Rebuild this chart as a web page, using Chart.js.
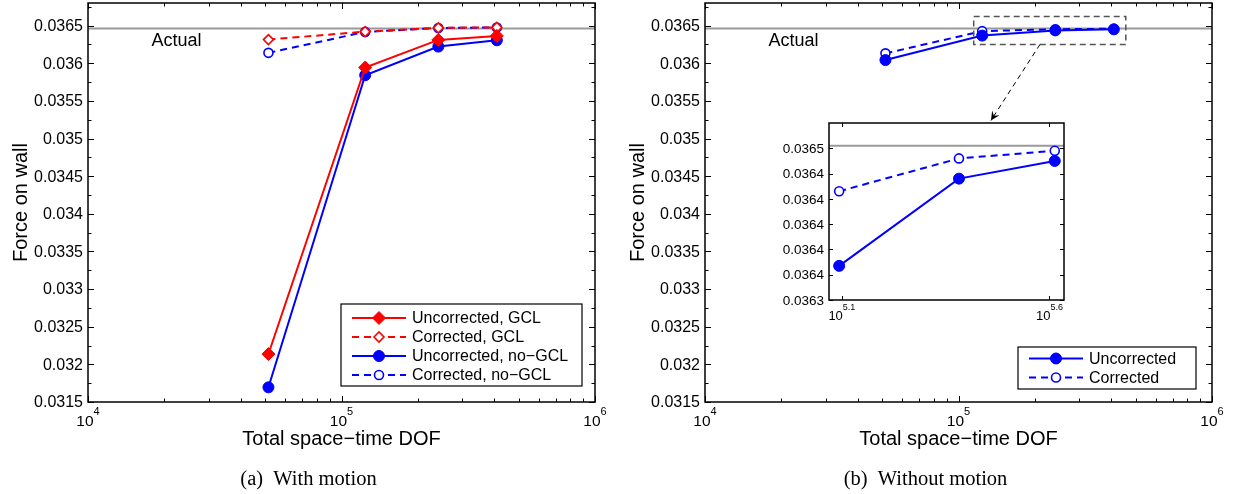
<!DOCTYPE html>
<html>
<head>
<meta charset="utf-8">
<script src="https://cdn.jsdelivr.net/npm/chart.js@4.4.1/dist/chart.umd.min.js"></script>
<style>
  html, body { margin: 0; padding: 0; background: #fff; }
  #wrap { position: relative; width: 1234px; height: 494px; }
  .pane { position: absolute; }
</style>
</head>
<body>
<div id="wrap">
  <div class="pane" style="left:0;top:0;width:617px;height:494px"><canvas id="left"></canvas></div>
  <div class="pane" style="left:617px;top:0;width:617px;height:494px"><canvas id="right"></canvas></div>
  <div class="pane" style="left:760px;top:110px;width:320px;height:215px"><canvas id="inset"></canvas></div>
</div>
<script>
// values
const dof = [51500, 124000, 241000, 410000];
const actualForce = 0.036462;

// (a) with motion
const uncorrGCL   = [0.032137, 0.035943, 0.036310, 0.036363];
const corrGCL     = [0.036314, 0.036420, 0.036470, 0.036476];
const uncorrNoGCL = [0.031695, 0.035841, 0.036221, 0.036305];
const corrNoGCL   = [0.036138, 0.036416, 0.036468, 0.036475];

// (b) without motion
const uncorrStatic = [0.036042, 0.036367, 0.036436, 0.036450];
const corrStatic   = [0.036131, 0.036426, 0.036452, 0.036458];

// ticks
const yTicks = [0.0315, 0.032, 0.0325, 0.033, 0.0335, 0.034, 0.0345, 0.035, 0.0355, 0.036, 0.0365];
const yMinorTicks = [0.03175, 0.03225, 0.03275, 0.03325, 0.03375, 0.03425, 0.03475, 0.03525, 0.03575, 0.03625, 0.03675];
const xMajorTicks = [1e4, 1e5, 1e6];
const xMinorTicks = [2e4, 3e4, 4e4, 5e4, 6e4, 7e4, 8e4, 9e4, 2e5, 3e5, 4e5, 5e5, 6e5, 7e5, 8e5, 9e5];
const xTickLabels = [
  { v: 1e4, base: '10', exp: '4' },
  { v: 1e5, base: '10', exp: '5' },
  { v: 1e6, base: '10', exp: '6' }
];
const insetYTicks = [0.03634, 0.03636, 0.03638, 0.03640, 0.03642, 0.03644, 0.03646];
const insetXTickLabels = [
  { v: Math.pow(10, 5.1), base: '10', exp: '5.1' },
  { v: Math.pow(10, 5.6), base: '10', exp: '5.6' }
];

const FONT = '"Liberation Sans", Arial, Helvetica, sans-serif';
const SERIF = '"Liberation Serif", "Times New Roman", serif';
Chart.defaults.font.family = FONT;
Chart.defaults.color = '#000';

const RED = '#ff0000', BLUE = '#0000ff', GREY = '#9a9a9a';
const DASH = [7, 5];

function series(label, ys, color, dash, style, radius, filled, xs) {
  xs = xs || dof;
  return {
    label: label,
    inLegend: true,
    data: ys.map((v, i) => ({ x: xs[i], y: v })),
    borderColor: color,
    borderWidth: 2,
    borderDash: dash,
    pointStyle: style,
    pointRadius: radius,
    pointBorderWidth: filled ? 1 : 1.6,
    pointBorderColor: color,
    pointBackgroundColor: filled ? color : '#fff',
    backgroundColor: filled ? color : '#fff',
    tension: 0,
    fill: false
  };
}

function actualLine(x0, x1) {
  return {
    label: 'Actual',
    inLegend: false,
    data: [{ x: x0, y: actualForce }, { x: x1, y: actualForce }],
    borderColor: GREY,
    borderWidth: 2,
    pointRadius: 0,
    fill: false
  };
}

// extra drawing per panel
const decor = {
  left: {
    xMajor: xMajorTicks, xMinor: xMinorTicks, yMajor: yTicks, yMinor: yMinorTicks,
    major: 6, minor: 3.5, yFont: 16,
    xLabels: xTickLabels, labelFont: { base: 15.5, exp: 11, baseY: 24, expY: 13 },
    xTitle: 'Total space\u2212time DOF', yTitle: 'Force on wall',
    caption: '(a)  With motion',
    actualLabel: true,
    legend: { w: 241, h: 82, right: 13, bottom: 16, first: 14, gap: 19 }
  },
  right: {
    xMajor: xMajorTicks, xMinor: xMinorTicks, yMajor: yTicks, yMinor: yMinorTicks,
    major: 6, minor: 3.5, yFont: 16,
    xLabels: xTickLabels, labelFont: { base: 15.5, exp: 11, baseY: 24, expY: 13 },
    xTitle: 'Total space\u2212time DOF', yTitle: 'Force on wall',
    caption: '(b)  Without motion',
    actualLabel: true,
    legend: { w: 178, h: 42, right: 16, bottom: 13, first: 11.5, gap: 19 },
    zoomBox: { x0: Math.pow(10, 5.06), x1: Math.pow(10, 5.66), y0: 0.03625, y1: 0.03662 },
    arrow: { x0: Math.pow(10, 5.3215), y0: 0.03625, x1: Math.pow(10, 5.128), y1: 0.03524 }
  },
  inset: {
    xMajor: insetXTickLabels.map(t => t.v), xMinor: [], yMajor: insetYTicks, yMinor: [],
    major: 4, minor: 0, yFont: 13.5,
    xLabels: insetXTickLabels, labelFont: { base: 13, exp: 9, baseY: 20, expY: 10 }
  }
};

function yTickLabel(v) { return String(+Number(v).toFixed(4)); }

function drawFrame(chart, d) {
  const { ctx, chartArea: a, scales: { x, y } } = chart;
  ctx.save();
  ctx.strokeStyle = '#000';
  ctx.lineWidth = 1;
  ctx.setLineDash([]);
  ctx.beginPath();
  const vt = (v, len) => {
    const px = Math.round(x.getPixelForValue(v)) + 0.5;
    ctx.moveTo(px, a.bottom); ctx.lineTo(px, a.bottom - len);
    ctx.moveTo(px, a.top); ctx.lineTo(px, a.top + len);
  };
  const ht = (v, len) => {
    const py = Math.round(y.getPixelForValue(v)) + 0.5;
    ctx.moveTo(a.left, py); ctx.lineTo(a.left + len, py);
    ctx.moveTo(a.right, py); ctx.lineTo(a.right - len, py);
  };
  d.xMajor.forEach(v => vt(v, d.major));
  d.xMinor.forEach(v => vt(v, d.minor));
  d.yMajor.forEach(v => ht(v, d.major));
  d.yMinor.forEach(v => ht(v, d.minor));
  ctx.stroke();
  ctx.lineWidth = 1.5;
  ctx.strokeRect(a.left, a.top, a.width, a.height);

  // y tick labels
  ctx.fillStyle = '#000';
  ctx.font = d.yFont + 'px ' + FONT;
  ctx.textAlign = 'right';
  ctx.textBaseline = 'middle';
  d.yMajor.forEach(v => ctx.fillText(yTickLabel(v), a.left - 5, y.getPixelForValue(v) + 1));
  ctx.restore();
}

function drawPowerLabels(chart, d) {
  const { ctx, chartArea: a, scales: { x } } = chart;
  const f = d.labelFont;
  ctx.save();
  ctx.fillStyle = '#000';
  ctx.textAlign = 'left';
  ctx.textBaseline = 'alphabetic';
  d.xLabels.forEach(t => {
    const px = x.getPixelForValue(t.v);
    ctx.font = f.base + 'px ' + FONT;
    const wb = ctx.measureText(t.base).width;
    ctx.font = f.exp + 'px ' + FONT;
    const we = ctx.measureText(t.exp).width;
    const x0 = px - (wb + we) / 2;
    ctx.font = f.base + 'px ' + FONT;
    ctx.fillText(t.base, x0, a.bottom + f.baseY);
    ctx.font = f.exp + 'px ' + FONT;
    ctx.fillText(t.exp, x0 + wb, a.bottom + f.expY);
  });
  ctx.restore();
}

function drawTexts(chart, d) {
  const { ctx, chartArea: a, scales: { x, y } } = chart;
  ctx.save();
  ctx.fillStyle = '#000';
  ctx.textBaseline = 'alphabetic';
  ctx.textAlign = 'center';
  ctx.font = '20px ' + FONT;
  ctx.fillText(d.xTitle, (a.left + a.right) / 2, a.bottom + 43);
  ctx.font = '20.5px ' + SERIF;
  ctx.fillText(d.caption, chart.width / 2, 485);
  ctx.save();
  ctx.translate(27, (a.top + a.bottom) / 2);
  ctx.rotate(-Math.PI / 2);
  ctx.font = '20px ' + FONT;
  ctx.fillText(d.yTitle, 0, 0);
  ctx.restore();
  if (d.actualLabel) {
    ctx.textAlign = 'left';
    ctx.font = '18px ' + FONT;
    ctx.fillText('Actual', x.getPixelForValue(Math.pow(10, 4.25)), y.getPixelForValue(actualForce) + 18);
  }
  ctx.restore();
}

function drawLegend(chart, lg) {
  const { ctx, chartArea: a } = chart;
  const bx = a.right - lg.right - lg.w;
  const by = a.bottom - lg.bottom - lg.h;
  ctx.save();
  ctx.fillStyle = '#fff';
  ctx.fillRect(bx, by, lg.w, lg.h);
  ctx.strokeStyle = '#000';
  ctx.lineWidth = 1.2;
  ctx.setLineDash([]);
  ctx.strokeRect(bx, by, lg.w, lg.h);
  const items = chart.data.datasets.filter(ds => ds.inLegend);
  items.forEach((ds, i) => {
    const ry = by + lg.first + i * lg.gap;
    ctx.strokeStyle = ds.borderColor;
    ctx.lineWidth = ds.borderWidth;
    ctx.setLineDash(ds.borderDash || []);
    ctx.beginPath();
    ctx.moveTo(bx + 11, ry);
    ctx.lineTo(bx + 65, ry);
    ctx.stroke();
    ctx.setLineDash([]);
    ctx.fillStyle = ds.pointBackgroundColor;
    ctx.strokeStyle = ds.pointBorderColor;
    ctx.lineWidth = ds.pointBorderWidth;
    Chart.helpers.drawPoint(ctx, { pointStyle: ds.pointStyle, radius: ds.pointRadius, borderWidth: ds.pointBorderWidth, rotation: 0 }, bx + 38, ry);
    ctx.fillStyle = '#000';
    ctx.font = '16px ' + FONT;
    ctx.textAlign = 'left';
    ctx.textBaseline = 'middle';
    ctx.fillText(ds.label, bx + 71, ry + 1);
  });
  ctx.restore();
}

function drawZoomMarks(chart, d) {
  const { ctx, scales: { x, y } } = chart;
  ctx.save();
  const zb = d.zoomBox;
  const l = x.getPixelForValue(zb.x0), r = x.getPixelForValue(zb.x1);
  const t = y.getPixelForValue(zb.y1), b = y.getPixelForValue(zb.y0);
  ctx.strokeStyle = '#555';
  ctx.lineWidth = 1.5;
  ctx.setLineDash([6, 4]);
  ctx.strokeRect(l, t, r - l, b - t);
  const ar = d.arrow;
  const sx = x.getPixelForValue(ar.x0), sy = y.getPixelForValue(ar.y0);
  const ex = x.getPixelForValue(ar.x1), ey = y.getPixelForValue(ar.y1);
  ctx.strokeStyle = '#000';
  ctx.lineWidth = 1;
  ctx.setLineDash([5, 4]);
  ctx.beginPath();
  ctx.moveTo(sx, sy);
  ctx.lineTo(ex, ey);
  ctx.stroke();
  ctx.setLineDash([]);
  const ang = Math.atan2(ey - sy, ex - sx);
  const hl = 10, hw = 0.45;
  ctx.fillStyle = '#000';
  ctx.beginPath();
  ctx.moveTo(ex, ey);
  ctx.lineTo(ex - hl * Math.cos(ang - hw), ey - hl * Math.sin(ang - hw));
  ctx.lineTo(ex - 0.55 * hl * Math.cos(ang), ey - 0.55 * hl * Math.sin(ang));
  ctx.lineTo(ex - hl * Math.cos(ang + hw), ey - hl * Math.sin(ang + hw));
  ctx.closePath();
  ctx.fill();
  ctx.restore();
}

const matlabLook = {
  id: 'matlabLook',
  beforeDraw(chart) {
    const a = chart.chartArea, ctx = chart.ctx;
    ctx.save();
    ctx.fillStyle = '#fff';
    ctx.fillRect(a.left, a.top, a.width, a.height);
    ctx.restore();
  },
  afterDraw(chart) {
    const d = decor[chart.canvas.id];
    drawFrame(chart, d);
    drawPowerLabels(chart, d);
    if (d.xTitle) drawTexts(chart, d);
    if (d.zoomBox) drawZoomMarks(chart, d);
    if (d.legend) drawLegend(chart, d.legend);
  }
};

// the plot box sits exactly where the layout padding and this width put it
function yAxis(min, max, ticks, width) {
  return {
    type: 'linear', min: min, max: max,
    afterBuildTicks: s => { s.ticks = ticks.map(v => ({ value: v })); },
    afterFit: s => { s.width = width; s.paddingTop = 0; s.paddingBottom = 0; },
    grid: { display: false, drawTicks: false },
    border: { display: false },
    ticks: { display: false }
  };
}

function mainOptions() {
  return {
    responsive: true,
    maintainAspectRatio: false,
    animation: false,
    events: [],
    layout: { autoPadding: false, padding: { left: 0, right: 22, top: 3, bottom: 92 } },
    plugins: { legend: { display: false }, tooltip: { enabled: false } },
    scales: {
      x: { type: 'logarithmic', min: 1e4, max: 1e6, display: false },
      y: yAxis(0.0315, 0.0368, yTicks, 88)
    }
  };
}

new Chart(document.getElementById('left'), {
  type: 'line',
  data: {
    datasets: [
      series('Uncorrected, GCL', uncorrGCL, RED, [], 'rectRot', 6.5, true),
      series('Corrected, GCL', corrGCL, RED, DASH, 'rectRot', 5, false),
      series('Uncorrected, no\u2212GCL', uncorrNoGCL, BLUE, [], 'circle', 5.5, true),
      series('Corrected, no\u2212GCL', corrNoGCL, BLUE, DASH, 'circle', 4.5, false),
      actualLine(1e4, 1e6)
    ]
  },
  options: mainOptions(),
  plugins: [matlabLook]
});

new Chart(document.getElementById('right'), {
  type: 'line',
  data: {
    datasets: [
      series('Uncorrected', uncorrStatic, BLUE, [], 'circle', 5.5, true),
      series('Corrected', corrStatic, BLUE, DASH, 'circle', 4.5, false),
      actualLine(1e4, 1e6)
    ]
  },
  options: mainOptions(),
  plugins: [matlabLook]
});

// zoomed view of the last three points of (b)
new Chart(document.getElementById('inset'), {
  type: 'line',
  data: {
    datasets: [
      series('Uncorrected', uncorrStatic.slice(1), BLUE, [], 'circle', 5.5, true, dof.slice(1)),
      series('Corrected', corrStatic.slice(1), BLUE, DASH, 'circle', 4.5, false, dof.slice(1)),
      actualLine(1e5, 1e6)
    ]
  },
  options: {
    responsive: true,
    maintainAspectRatio: false,
    animation: false,
    events: [],
    layout: { autoPadding: false, padding: { left: 0, right: 16, top: 13, bottom: 25 } },
    plugins: { legend: { display: false }, tooltip: { enabled: false } },
    scales: {
      x: { type: 'logarithmic', min: Math.pow(10, 5.069), max: Math.pow(10, 5.635), display: false },
      y: yAxis(0.03634, 0.03648, insetYTicks, 69)
    }
  },
  plugins: [matlabLook]
});
</script>
</body>
</html>
